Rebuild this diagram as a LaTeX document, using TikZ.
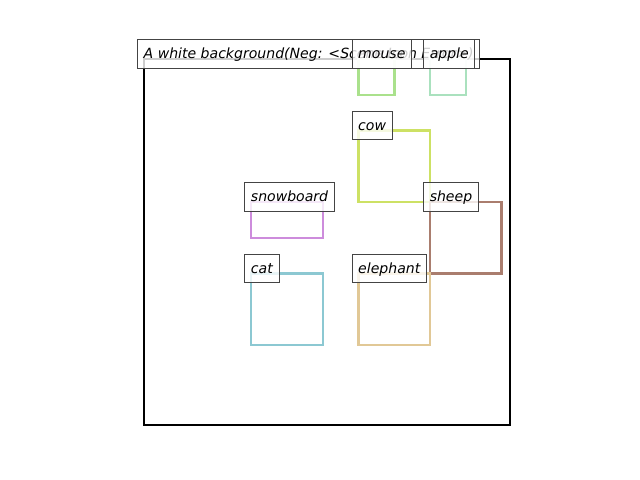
\documentclass[tikz,border=0pt]{standalone}
\usepackage{fontspec}
\setmainfont{DejaVu Sans}
\usepackage{tikz}
\definecolor{mousecol}{RGB}{170,225,140}
\definecolor{applecol}{RGB}{170,225,190}
\definecolor{cowcol}{RGB}{205,225,100}
\definecolor{snowcol}{RGB}{205,140,220}
\definecolor{sheepcol}{RGB}{170,125,110}
\definecolor{catcol}{RGB}{140,200,210}
\definecolor{elecol}{RGB}{225,200,150}
\definecolor{tagline}{RGB}{68,68,68}
\tikzstyle{frame} = [draw=black, line width=1.4pt]
\tikzstyle{bbox} = [line width=1.7pt]
\tikzstyle{tag} = [rectangle, draw=tagline, line width=0.7pt, fill=white, fill opacity=0.8, text opacity=1, anchor=west, inner xsep=4.4pt, minimum height=20pt, font=\itshape, text height=8.2pt, text depth=1.8pt, xshift=-0.175cm, yshift=0.125cm]

\begin{document}
\begin{tikzpicture}[x=0.025cm, y=-0.025cm]
\useasboundingbox (0,0) rectangle (640,480);
\begin{scope}[shift={(144,59)}, x=0.89375cm, y=-0.89375cm]
% image frame
\draw [frame] (0,0) rectangle (10.24,10.24);
% boxes
\draw [bbox, mousecol] (6,0) rectangle (7,1);
\draw [bbox, applecol] (8,0) rectangle (9,1);
\draw [bbox, cowcol] (6,2) rectangle (8,4);
\draw [bbox, snowcol] (3,4) rectangle (5,5);
\draw [bbox, sheepcol] (8,4) rectangle (10,6);
\draw [bbox, catcol] (3,6) rectangle (5,8);
\draw [bbox, elecol] (6,6) rectangle (8,8);
% labels
\node (title) [tag] at (0,0) {A white background(Neg: <Scene Icon Error>)};
\node (mouse) [tag] at (6,0) {mouse};
\node (apple) [tag] at (8,0) {apple};
\node (cow) [tag] at (6,2) {cow};
\node (snowboard) [tag] at (3,4) {snowboard};
\node (sheep) [tag] at (8,4) {sheep};
\node (cat) [tag] at (3,6) {cat};
\node (elephant) [tag] at (6,6) {elephant};
\end{scope}
\end{tikzpicture}
\end{document}
